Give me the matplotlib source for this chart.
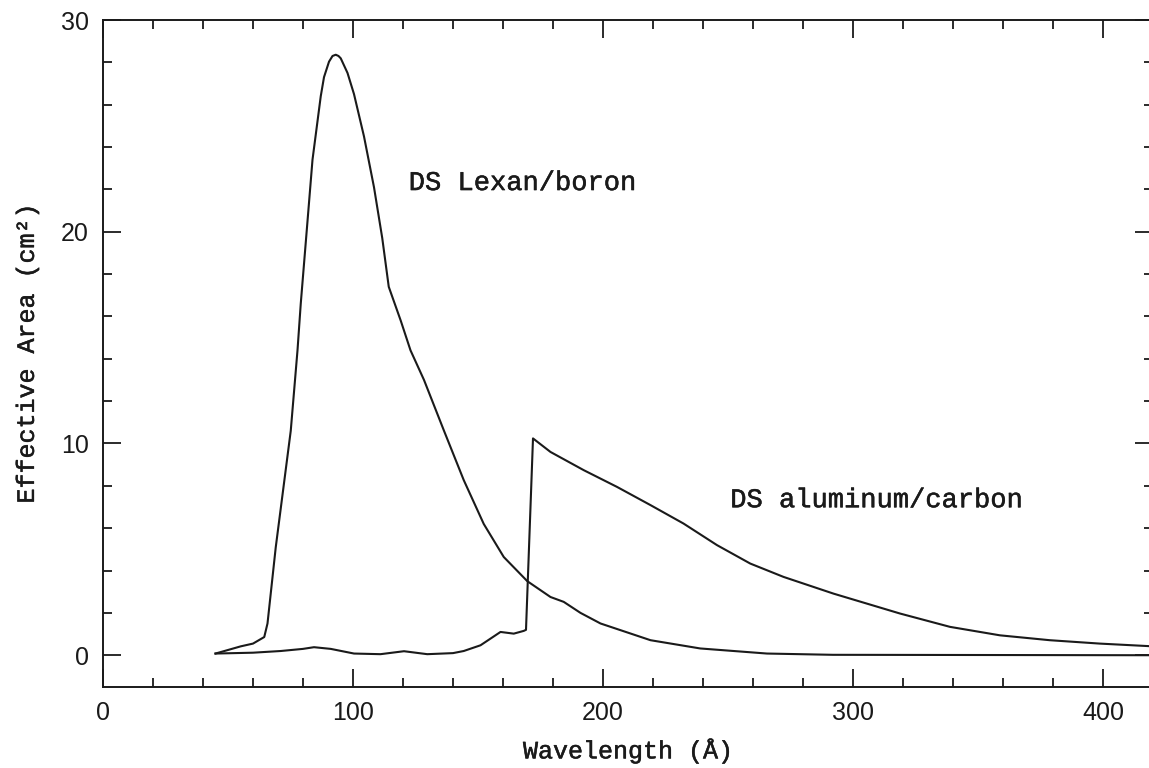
import matplotlib
matplotlib.use("Agg")
import matplotlib.pyplot as plt
import matplotlib.patheffects as pe
from matplotlib.ticker import MultipleLocator

# DS Lexan/boron effective area
lexan_wl = [45, 55.1, 60, 64.5, 65.8, 69.1, 75.1, 77.8, 79.1, 81.8, 83.8, 87.1, 88.4, 90.4,
            91.8, 93.1, 94.2, 95.1, 97.8, 100.4, 104.4, 108.4, 111.7, 114.3, 119.1, 123,
            128.4, 136.4, 144.3, 152.3, 160.3, 169.7, 179, 184.3, 191, 199, 219, 238.9,
            265.6, 292, 420]
lexan_area = [0.08, 0.42, 0.55, 0.86, 1.5, 5.1, 10.6, 14.4, 16.6, 20.5, 23.4, 26.4, 27.3, 28.03,
              28.3, 28.36, 28.3, 28.19, 27.5, 26.5, 24.5, 22.1, 19.7, 17.4, 15.8, 14.4,
              13.0, 10.6, 8.27, 6.2, 4.64, 3.5, 2.75, 2.52, 2.0, 1.5, 0.71, 0.32,
              0.08, 0.02, 0.0]

# DS aluminum/carbon effective area
al_wl = [45, 60, 71.1, 80, 84.4, 91.1, 100.4, 111, 120.4, 129.7, 140, 144.3, 151, 159,
         164.3, 168.3, 169.2, 172, 179, 192.3, 205.6, 219, 232.2, 245.6, 258.9, 272.2,
         292.2, 305.5, 318.8, 338.8, 358.8, 378.7, 398.7, 420]
al_area = [0.08, 0.12, 0.2, 0.3, 0.38, 0.3, 0.08, 0.05, 0.19, 0.05, 0.1, 0.2, 0.47, 1.1,
           1.02, 1.15, 1.2, 10.24, 9.6, 8.74, 7.95, 7.09, 6.22, 5.2, 4.33, 3.7,
           2.91, 2.44, 1.97, 1.34, 0.94, 0.71, 0.55, 0.42]

ink = "#1a1a1a"
label_font = "Liberation Mono"
tick_font = "Liberation Sans"
thick = [pe.withStroke(linewidth=0.35, foreground=ink)]

fig = plt.figure(figsize=(11.49, 7.68), dpi=100)
ax = fig.add_axes([103 / 1149, 81 / 768, 1050 / 1149, 667 / 768])

ax.plot(lexan_wl, lexan_area, color=ink, lw=1.5)
ax.plot(al_wl, al_area, color=ink, lw=1.5)

ax.set_xlim(0, 420)
ax.set_ylim(-1.5, 30)

ax.xaxis.set_major_locator(MultipleLocator(100))
ax.xaxis.set_minor_locator(MultipleLocator(20))
ax.yaxis.set_major_locator(MultipleLocator(10))
ax.yaxis.set_minor_locator(MultipleLocator(2))

ax.tick_params(which="both", direction="in", top=True, right=True, color=ink, width=1.3)
ax.tick_params(which="major", length=13, labelsize=18, pad=10, labelcolor=ink)
ax.tick_params(which="minor", length=6.5)
for lbl in ax.get_xticklabels() + ax.get_yticklabels():
    lbl.set_fontfamily(tick_font)

for s in ax.spines.values():
    s.set_linewidth(1.4)
    s.set_color(ink)

ax.set_xlabel("Wavelength (Å)", fontsize=18, family=label_font, color=ink, labelpad=9,
              path_effects=thick)
ax.set_ylabel("Effective Area (cm²)", fontsize=18, family=label_font, color=ink, labelpad=16,
              path_effects=thick)

ax.text(122.3, 22.3, "DS Lexan/boron", fontsize=19.5, family=label_font, color=ink,
        ha="left", va="center", path_effects=thick)
ax.text(250.9, 7.32, "DS aluminum/carbon", fontsize=19.5, family=label_font, color=ink,
        ha="left", va="center", path_effects=thick)

fig.savefig("out.png", dpi=100)
